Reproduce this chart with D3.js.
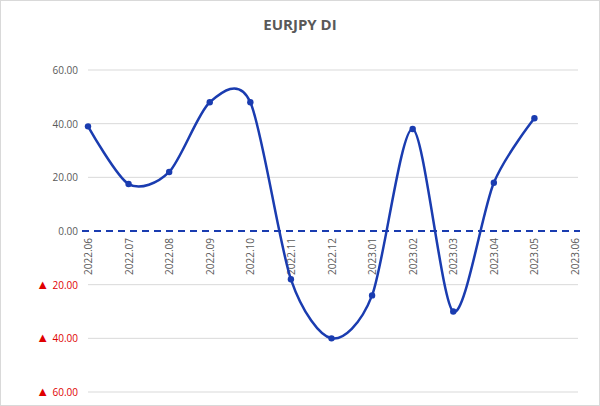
<!DOCTYPE html>
<html><head><meta charset="utf-8">
<script src="https://cdn.jsdelivr.net/npm/d3@7"></script>
<style>body{margin:0;background:#fff;font-family:"Open Sans",Calibri,sans-serif}</style>
</head><body>
<div class="chart"></div>
<script>
var months = ["2022.06","2022.07","2022.08","2022.09","2022.10","2022.11","2022.12","2023.01","2023.02","2023.03","2023.04","2023.05","2023.06"];
var values = [39, 17.5, 22, 48, 48, -18, -40, -24, 38, -30, 18, 42];
var yTicks = [-60, -40, -20, 0, 20, 40, 60];

var svg = d3.select(".chart").append("svg").attr("width", 600).attr("height", 406);

// outer chart border
svg.append("rect").attr("x", 0.5).attr("y", 0.5).attr("width", 599).attr("height", 405)
	.attr("fill", "#fff").attr("stroke", "#d9d9d9");

svg.append("text").attr("x", 300).attr("y", 30).attr("text-anchor", "middle")
	.attr("font-size", 15).attr("font-weight", "bold").attr("fill", "#595959").text("EURJPY DI");

var x = d3.scalePoint().domain(months).range([88, 575]);
var y = d3.scaleLinear().domain([-60, 60]).range([392, 70]);

//gridlines
svg.append("g").selectAll("line").data(yTicks.filter(function(d){return d != 0;}))
	.enter().append("line")
	.attr("x1", 88).attr("x2", 578)
	.attr("y1", function(d){return y(d);}).attr("y2", function(d){return y(d);})
	.attr("stroke", "#d9d9d9");

//y labels, negatives in red with a triangle
var lab = svg.append("g").selectAll("text").data(yTicks).enter().append("text")
	.attr("x", 78).attr("y", function(d){return y(d) + 4;})
	.attr("text-anchor", "end").attr("font-size", 10)
	.attr("fill", function(d){return d < 0 ? "#e00000" : "#595959";});
lab.filter(function(d){return d < 0;}).append("tspan").attr("font-size", 13).text("\u25B2 ");
lab.append("tspan").text(function(d){return Math.abs(d).toFixed(2);});

//zero line
svg.append("line").attr("x1", 82).attr("x2", 580).attr("y1", y(0)).attr("y2", y(0))
	.attr("stroke", "#1a3cb0").attr("stroke-width", 2).attr("stroke-dasharray", "7,5");

//x labels rotated
svg.append("g").selectAll("text").data(months).enter().append("text")
	.attr("transform", function(d){return "translate(" + (x(d) + 4) + "," + (y(0) + 7) + ") rotate(-90)";})
	.attr("text-anchor", "end").attr("font-size", 10).attr("fill", "#595959")
	.text(function(d){return d;});

var pts = values.map(function(v, i){return [x(months[i]), y(v)];});

svg.append("path").attr("d", d3.line().curve(d3.curveCardinal.tension(0.15))(pts))
	.attr("fill", "none").attr("stroke", "#1a3cb0").attr("stroke-width", 2.5);

svg.append("g").selectAll("circle").data(pts).enter().append("circle")
	.attr("cx", function(d){return d[0];}).attr("cy", function(d){return d[1];})
	.attr("r", 3.2).attr("fill", "#1a3cb0");
</script>
</body></html>
